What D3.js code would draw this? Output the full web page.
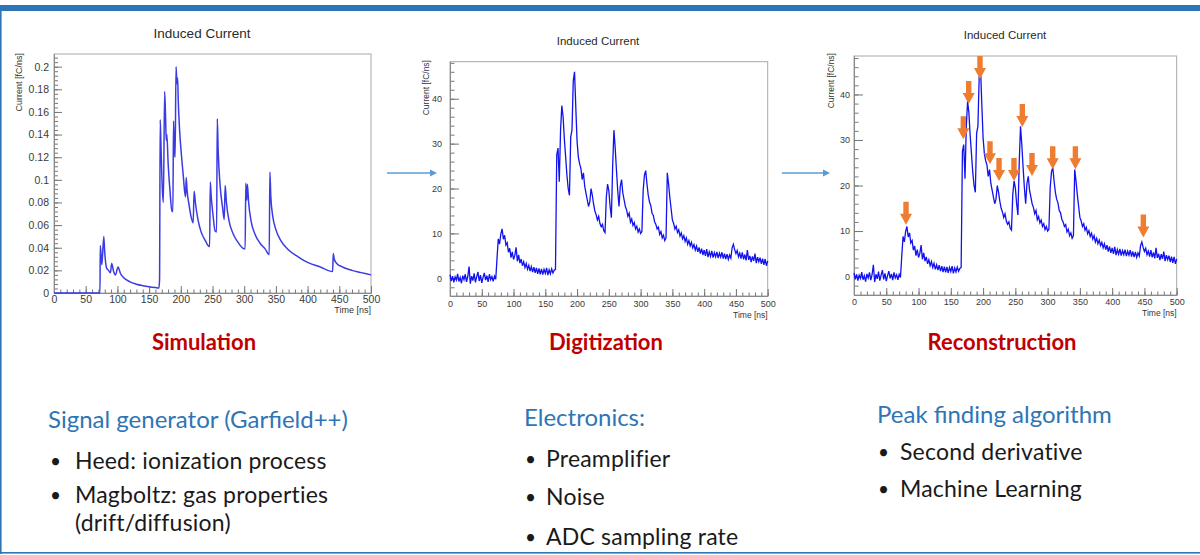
<!DOCTYPE html>
<html>
<head>
<meta charset="utf-8">
<script src="https://cdn.jsdelivr.net/npm/d3@7"></script>
<style>
  html, body { margin: 0; padding: 0; background: #fff; }
  svg { display: block; }
</style>
</head>
<body>
<svg id="slide" width="1200" height="555"></svg>
<script>
// ---- Simulated induced current (Garfield++), time in ns, current in fC/ns ----
const simTime = [
  0, 72.5, 73, 75.5, 78.5, 80, 83, 86, 89, 91, 94, 97, 101, 105, 110, 120, 130, 140, 150, 160,
  165.5, 166.5, 167.5, 169, 171, 172.5, 174.5, 176, 177, 178, 180, 183, 186, 187.5, 188.5, 190,
  191, 192.5, 194, 195, 196, 198, 201, 204, 206, 207.5, 208.5, 210, 213, 216, 219.5, 221, 223,
  227, 232, 238, 245.5, 246.5, 248, 251, 254, 256.5, 257.5, 259, 262, 266, 268.5, 270, 272, 276,
  282, 290, 300, 301.5, 302.5, 304, 305, 307, 311, 317, 325, 333, 339.5, 340.5, 342, 345, 350,
  358, 370, 385, 400, 420, 439.5, 440.5, 442, 446, 455, 470, 485, 500
];
const simCurrent = [
  0, 0, 0.042, 0.025, 0.05, 0.036, 0.022, 0.02, 0.018, 0.026, 0.019, 0.016, 0.023, 0.017, 0.0135,
  0.0098, 0.0078, 0.0065, 0.0055, 0.0048,
  0.0045, 0.012, 0.153, 0.125, 0.09, 0.08, 0.178, 0.155, 0.135, 0.14, 0.115, 0.09, 0.072, 0.072,
  0.152, 0.125,
  0.12, 0.2, 0.185, 0.19, 0.17, 0.145, 0.122, 0.103, 0.09, 0.085, 0.102, 0.09, 0.078, 0.068, 0.062,
  0.09, 0.08,
  0.065, 0.054, 0.047, 0.041, 0.098, 0.085, 0.068, 0.055, 0.054, 0.154, 0.125, 0.095, 0.075, 0.065,
  0.095, 0.08, 0.064,
  0.053, 0.045, 0.039, 0.039, 0.097, 0.082, 0.096, 0.08, 0.063, 0.052, 0.044, 0.039, 0.034, 0.107,
  0.085, 0.068, 0.056,
  0.046, 0.038, 0.032, 0.027, 0.023, 0.019, 0.035, 0.03, 0.026, 0.023, 0.020, 0.018, 0.016
];

// ---- Digitized signal after preamplifier + noise, one sample every 2 ns ----
const sampleStepNs = 2;
const digitized = [
  // 0 - 72 ns
  0.8, -0.6, 0.5, -0.9, 0.3, -0.4, 1.0, -0.7, 0.2, -1.1, 0.6, -0.3, 0.9, -0.8, 0.4, 2.6, -1.2, 0.5,
  -0.5, 1.1, -0.9, 0.3, 1.4, -0.6, 0.7, -1.0, 0.2, 1.2, -0.4, 0.6, -0.8, 0.9, -0.3, 0.4, -0.7, 0.5, -0.2,
  // 74 - 166 ns
  4.5, 8.8, 7.6, 9.9, 11.0, 8.7, 9.6, 7.4, 7.9, 5.8, 6.7, 4.6, 5.9, 4.2, 5.1, 6.9, 3.8, 5.2, 3.4, 4.3,
  2.8, 3.7, 2.4, 3.3, 2.0, 2.9, 1.6, 2.6, 1.4, 2.5, 1.2, 2.3, 1.0, 2.2, 0.9, 2.1, 0.8, 2.0, 1.1, 2.3,
  0.7, 1.9, 1.0, 2.1, 1.2, 1.8, 2.0,
  // 168 - 500 ns
  27.5, 29.0, 21.5, 33.0, 38.5, 36.0, 31.0, 27.0, 23.0, 20.0, 18.5, 31.5, 33.0, 44.0, 46.0, 38.0,
  30.5, 27.0, 25.5, 24.5, 22.0, 23.5, 20.5, 19.0, 17.5, 16.0, 17.0, 20.0, 18.5, 16.5, 15.0, 14.2,
  13.0, 13.8, 12.2, 11.5, 12.0, 10.6, 10.2, 18.0, 21.0, 19.5, 16.0, 13.5, 25.0, 33.0, 29.0, 24.0,
  19.5, 16.0, 20.5, 22.0, 19.0, 17.5, 16.0, 15.2, 13.8, 14.5, 12.5, 13.2, 11.8, 12.4, 11.0, 11.6,
  10.3, 11.0, 10.0, 10.4, 19.5, 23.0, 24.0, 21.0, 18.5, 17.0, 16.2, 14.5, 14.0, 12.6, 12.0, 11.0,
  11.4, 9.8, 10.4, 9.0, 9.6, 8.4, 9.0, 23.5, 21.0, 18.0, 15.5, 13.0, 12.2, 11.0, 11.6, 10.2, 10.8,
  9.4, 10.1, 8.8, 9.5, 8.2, 9.0, 7.6, 8.4, 7.2, 8.0, 6.8, 7.5, 6.3, 7.2, 5.9, 6.9, 5.5, 6.6, 5.2,
  6.3, 5.0, 6.5, 4.7, 5.9, 4.9, 6.1, 4.6, 5.7, 4.8, 5.9, 4.5, 5.6, 4.7, 5.8, 4.4, 5.5, 4.3, 5.4,
  4.2, 5.2, 4.5, 6.8, 7.6, 6.4, 5.5, 6.2, 4.8, 5.6, 4.4, 5.8, 4.2, 5.3, 4.0, 6.3, 4.1, 5.0, 3.6,
  4.9, 3.9, 5.5, 3.4, 4.7, 3.7, 4.6, 3.2, 4.4, 3.0, 4.3, 2.8, 3.9
];

// ---- Peaks found by the reconstruction ----
const peakTimes  = [80.6, 169.4, 177.7, 195.2, 210.7, 224.7, 247.9, 260.8, 275.8, 307.9, 343.0, 448.3];
const peakValues = [11.6, 30.4, 38.1, 43.6, 24.9, 21.2, 21.2, 33.1, 22.3, 23.8, 23.8, 8.8];

// ---- Axis ticks and labels ----
const timeTicks = [0, 50, 100, 150, 200, 250, 300, 350, 400, 450, 500];
const simCurrentTicks = [0, 0.02, 0.04, 0.06, 0.08, 0.1, 0.12, 0.14, 0.16, 0.18, 0.2];
const digCurrentTicks = [0, 10, 20, 30, 40];
const plotTitle = "Induced Current";
const yAxisTitle = "Current [fC/ns]";
const xAxisTitle = "Time [ns]";

// ---- Slide text ----
const stageNames = ["Simulation", "Digitization", "Reconstruction"];
const sectionHeads = ["Signal generator (Garfield++)", "Electronics:", "Peak finding algorithm"];
const sectionItems = [
  [["Heed: ionization process"], ["Magboltz: gas properties", "(drift/diffusion)"]],
  [["Preamplifier"], ["Noise"], ["ADC sampling rate"]],
  [["Second derivative"], ["Machine Learning"]]
];

const svg = d3.select("#slide");
const ROOT_FONT = "'Liberation Sans', Arial, Helvetica, sans-serif";
const SLIDE_FONT = "Lato, 'Open Sans', sans-serif";
const BLUE = "#2e75b6";

// slide frame: top band, left and bottom rules
svg.append("rect").attr("x", 0).attr("y", 5).attr("width", 1200).attr("height", 6).attr("fill", BLUE);
svg.append("rect").attr("x", 0).attr("y", 11).attr("width", 1.6).attr("height", 543).attr("fill", BLUE);
svg.append("rect").attr("x", 0).attr("y", 552).attr("width", 1200).attr("height", 1.6).attr("fill", BLUE);

function minorSteps(lo, hi, step) {
  const out = [];
  const n = Math.round((hi - lo) / step);
  for (let i = 0; i <= n; i++) out.push(+(lo + i * step).toFixed(6));
  return out;
}

// One ROOT-style canvas: frame, inward ticks, labels, titles
function rootPanel(cfg) {
  const g = svg.append("g");
  const x = d3.scaleLinear().domain([0, 500]).range([cfg.left, cfg.right]);
  const y = d3.scaleLinear().domain(cfg.yDomain).range([cfg.bottom, cfg.top]);

  g.append("rect")
    .attr("x", cfg.left).attr("y", cfg.top)
    .attr("width", cfg.right - cfg.left).attr("height", cfg.bottom - cfg.top)
    .attr("fill", "none").attr("stroke", "#a8a8a8").attr("stroke-width", 1);

  const styleAxis = sel => {
    sel.select(".domain").attr("stroke", "#8a8a8a");
    sel.selectAll(".tick line").attr("stroke", "#777");
    sel.selectAll("text").attr("fill", "#3a3a3a")
      .style("font-family", ROOT_FONT).style("font-size", cfg.labelSize + "px");
  };

  // x axis
  g.append("g").attr("transform", `translate(0,${cfg.bottom})`)
    .call(d3.axisBottom(x).tickValues(minorSteps(0, 500, 10)).tickSize(-cfg.xMinor).tickSizeOuter(0).tickFormat(""))
    .call(styleAxis);
  g.append("g").attr("transform", `translate(0,${cfg.bottom})`)
    .call(d3.axisBottom(x).tickValues(timeTicks).tickSize(-cfg.xMajor).tickSizeOuter(0)
      .tickPadding(cfg.xPad).tickFormat(d3.format("d")))
    .call(styleAxis);

  // y axis
  g.append("g").attr("transform", `translate(${cfg.left},0)`)
    .call(d3.axisLeft(y).tickValues(cfg.yMinorTicks).tickSize(-cfg.yMinor).tickSizeOuter(0).tickFormat(""))
    .call(styleAxis);
  g.append("g").attr("transform", `translate(${cfg.left},0)`)
    .call(d3.axisLeft(y).tickValues(cfg.yTicks).tickSize(-cfg.yMajor).tickSizeOuter(0)
      .tickPadding(cfg.yPad).tickFormat(cfg.yFormat))
    .call(styleAxis);

  // titles
  g.append("text").text(plotTitle)
    .attr("x", cfg.titleX).attr("y", cfg.titleY).attr("text-anchor", "middle")
    .style("font-family", ROOT_FONT).style("font-size", cfg.titleSize + "px").attr("fill", "#2a2a2a");
  g.append("text").text(yAxisTitle)
    .attr("transform", `translate(${cfg.yTitleX},${cfg.yTitleTop}) rotate(-90)`)
    .attr("text-anchor", "end")
    .style("font-family", ROOT_FONT).style("font-size", cfg.axisTitleSize + "px").attr("fill", "#333");
  g.append("text").text(xAxisTitle)
    .attr("x", cfg.right).attr("y", cfg.xTitleY).attr("text-anchor", "end")
    .style("font-family", ROOT_FONT).style("font-size", cfg.axisTitleSize + "px").attr("fill", "#333");

  return { g, x, y };
}

const simFmt = d => d === 0 ? "0" : String(+d.toFixed(2));

// Panel 1: simulated current
const p1 = rootPanel({
  left: 54, right: 371, top: 54, bottom: 293, yDomain: [0, 0.2112],
  yTicks: simCurrentTicks, yMinorTicks: minorSteps(0, 0.208, 0.004), yFormat: simFmt,
  xMajor: 7, xMinor: 3.5, yMajor: 8, yMinor: 4, xPad: 3, yPad: 5, labelSize: 10.5,
  titleX: 202, titleY: 38, titleSize: 13.5, yTitleX: 21.5, yTitleTop: 53,
  axisTitleSize: 9, xTitleY: 313
});
p1.g.append("path")
  .datum(d3.zip(simTime, simCurrent))
  .attr("fill", "none").attr("stroke", "#3b3be3").attr("stroke-width", 1.5)
  .attr("stroke-linejoin", "round")
  .attr("d", d3.line().x(d => p1.x(d[0])).y(d => p1.y(d[1])).curve(d3.curveMonotoneX));

const digPoints = digitized.map((v, i) => [i * sampleStepNs, v]);

// Panel 2: digitized current
const p2 = rootPanel({
  left: 450, right: 767.7, top: 61.7, bottom: 296, yDomain: [-3.94, 48.25],
  yTicks: digCurrentTicks, yMinorTicks: minorSteps(-2, 48, 2), yFormat: d3.format("d"),
  xMajor: 7, xMinor: 3.5, yMajor: 9, yMinor: 4.5, xPad: 5, yPad: 8, labelSize: 9,
  titleX: 598, titleY: 44.5, titleSize: 11.5, yTitleX: 428.5, yTitleTop: 60,
  axisTitleSize: 8.5, xTitleY: 318
});
p2.g.append("path")
  .datum(digPoints)
  .attr("fill", "none").attr("stroke", "#1212ee").attr("stroke-width", 1.3)
  .attr("d", d3.line().x(d => p2.x(d[0])).y(d => p2.y(d[1])));

// Panel 3: reconstruction with peak markers
const p3 = rootPanel({
  left: 854, right: 1176.7, top: 56, bottom: 295, yDomain: [-4.05, 48.45],
  yTicks: digCurrentTicks, yMinorTicks: minorSteps(-2, 48, 2), yFormat: d3.format("d"),
  xMajor: 7, xMinor: 3.5, yMajor: 9, yMinor: 4.5, xPad: 4, yPad: 4, labelSize: 9,
  titleX: 1005, titleY: 39, titleSize: 11.5, yTitleX: 833.5, yTitleTop: 53,
  axisTitleSize: 8.5, xTitleY: 316
});
p3.g.append("path")
  .datum(digPoints)
  .attr("fill", "none").attr("stroke", "#1212ee").attr("stroke-width", 1.3)
  .attr("d", d3.line().x(d => p3.x(d[0])).y(d => p3.y(d[1])));

// block arrow pointing down, tip at (0,0)
const downArrow = "M0,0 L-6,-11 L-2.7,-11 L-2.7,-23 L2.7,-23 L2.7,-11 L6,-11 Z";
p3.g.selectAll(".peak")
  .data(d3.zip(peakTimes, peakValues))
  .join("path")
  .attr("class", "peak")
  .attr("d", downArrow)
  .attr("transform", d => `translate(${p3.x(d[0])},${p3.y(d[1]) + 1})`)
  .attr("fill", "#ee7d31");

// connectors between the stages
const connectors = [[387, 437], [782, 830]];
connectors.forEach(([x0, x1]) => {
  svg.append("line").attr("x1", x0).attr("x2", x1 - 6).attr("y1", 173).attr("y2", 173)
    .attr("stroke", "#5b9bd5").attr("stroke-width", 1.5);
  svg.append("path").attr("d", `M${x1},173 L${x1 - 7},169.5 L${x1 - 7},176.5 Z`).attr("fill", "#5b9bd5");
});

// stage names
const stageX = [204, 606, 1002];
svg.selectAll(".stage").data(stageNames).join("text")
  .attr("class", "stage")
  .attr("x", (d, i) => stageX[i]).attr("y", 350)
  .attr("text-anchor", "middle")
  .style("font-family", SLIDE_FONT).style("font-weight", "700").style("font-size", "22px")
  .attr("fill", "#c00000")
  .text(d => d);

// section descriptions
const colX = [48, 524, 877];
const bulletX = [50, 525, 878];
const textX = [75, 546, 900];
const headY = [428, 426, 423];
const itemY = [[469, 503], [467, 505, 545], [460, 497]];
const wrapStep = 28;
sectionHeads.forEach((h, i) => {
  svg.append("text").text(h)
    .attr("x", colX[i]).attr("y", headY[i])
    .style("font-family", SLIDE_FONT).style("font-size", "24px").attr("fill", BLUE);
  sectionItems[i].forEach((lines, j) => {
    svg.append("text").text("\u2022")
      .attr("x", bulletX[i]).attr("y", itemY[i][j] - 1)
      .style("font-family", SLIDE_FONT).style("font-size", "19px").attr("fill", "#1a1a1a");
    lines.forEach((line, k) => {
      svg.append("text").text(line)
        .attr("x", textX[i]).attr("y", itemY[i][j] + k * wrapStep)
        .style("font-family", SLIDE_FONT).style("font-size", "23px")
        .style("letter-spacing", "0.2px").attr("fill", "#1a1a1a");
    });
  });
});
</script>
</body>
</html>
